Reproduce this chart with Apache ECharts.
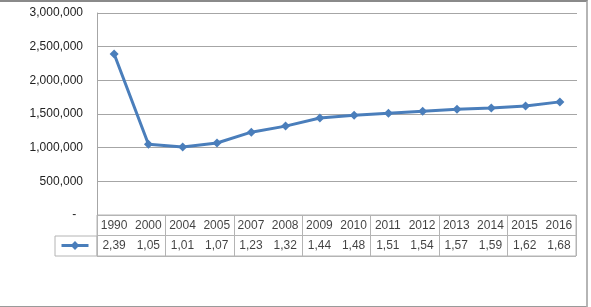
<!DOCTYPE html>
<html>
<head>
<meta charset="utf-8">
<script src="https://cdn.jsdelivr.net/npm/echarts@6/dist/echarts.min.js"></script>
<style>
html,body{margin:0;padding:0;background:#fff;}
#c{position:absolute;left:0;top:0;width:591px;height:307px;}
#frame{position:absolute;left:-3px;top:0;width:589px;height:304px;border-top:2px solid #8a8a8a;border-right:2px solid #b5b5b5;border-bottom:2px solid #9a9a9a;pointer-events:none;}
</style>
</head>
<body>
<div id="c"></div>
<div id="frame"></div>
<script>
// categories
var years = ['1990','2000','2004','2005','2007','2008','2009','2010','2011','2012','2013','2014','2015','2016'];
// series values
var values = [2390000,1050000,1010000,1070000,1230000,1320000,1440000,1480000,1510000,1540000,1570000,1590000,1620000,1680000];
// data table value labels (as shown, truncated)
var tableLabels = ['2,39','1,05','1,01','1,07','1,23','1,32','1,44','1,48','1,51','1,54','1,57','1,59','1,62','1,68'];
// y axis ticks
var yMin = 0, yMax = 3000000, yStep = 500000;

var FONT = 'Liberation Sans';
var LINE = '#4A7EBB';
var GRIDC = '#a6a6a6';
var TABC = '#b4b4b4';

function fmt(v){
  if (v === 0) return '-  ';
  return String(v).replace(/\B(?=(\d{3})+(?!\d))/g, ',');
}

var cellData = [];
years.forEach(function(y,i){ cellData.push([i, 0, y]); });
tableLabels.forEach(function(t,i){ cellData.push([i, 1, t]); });

var chart = echarts.init(document.getElementById('c'), null, {renderer:'canvas'});
chart.setOption({
  animation:false,
  textStyle:{fontFamily:FONT},
  grid:[
    {left:97, right:14, top:13, height:202},
    {left:97, right:15, top:215, height:41, show:true, borderColor:TABC, borderWidth:1, backgroundColor:'transparent'},
    {left:55, width:42, top:236, height:20, show:true, borderColor:TABC, borderWidth:1, backgroundColor:'transparent'}
  ],
  legend:{
    data:[{name:'Series1'}],
    left:60, top:240, itemWidth:27, itemHeight:11, padding:0,
    lineStyle:{width:3},
    formatter:function(){return '';},
    textStyle:{fontSize:1}
  },
  xAxis:[
    {gridIndex:0, type:'category', data:years, boundaryGap:true,
     axisLine:{show:false}, axisTick:{show:false}, axisLabel:{show:false}, splitLine:{show:false}},
    {gridIndex:1, type:'category', data:years, boundaryGap:true,
     axisLine:{show:false}, axisTick:{show:false}, axisLabel:{show:false},
     splitLine:{show:true, lineStyle:{color:TABC, width:1}}},
    {gridIndex:2, type:'value', show:false}
  ],
  yAxis:[
    {gridIndex:0, type:'value', min:yMin, max:yMax, interval:yStep,
     axisLine:{show:true, lineStyle:{color:GRIDC, width:1}},
     axisTick:{show:false},
     axisLabel:{formatter:fmt, color:'#222', fontSize:12, fontFamily:FONT, margin:14},
     splitLine:{show:true, lineStyle:{color:GRIDC, width:1}}},
    {gridIndex:1, type:'category', data:['y','v'], inverse:true, boundaryGap:true,
     axisLine:{show:false}, axisTick:{show:false}, axisLabel:{show:false},
     splitLine:{show:true, lineStyle:{color:TABC, width:1}}},
    {gridIndex:2, type:'value', show:false}
  ],
  series:[
    {name:'Series1', type:'line', xAxisIndex:0, yAxisIndex:0, data:values,
     symbol:'diamond', symbolSize:9, showAllSymbol:true,
     lineStyle:{color:LINE, width:3}, itemStyle:{color:LINE}},
    {type:'scatter', xAxisIndex:1, yAxisIndex:1, data:cellData,
     symbolSize:0, silent:true,
     label:{show:true, position:'inside', color:'#111', fontSize:12, fontFamily:FONT,
       formatter:function(p){return p.value[2];}}}
  ]
});
</script>
</body>
</html>
